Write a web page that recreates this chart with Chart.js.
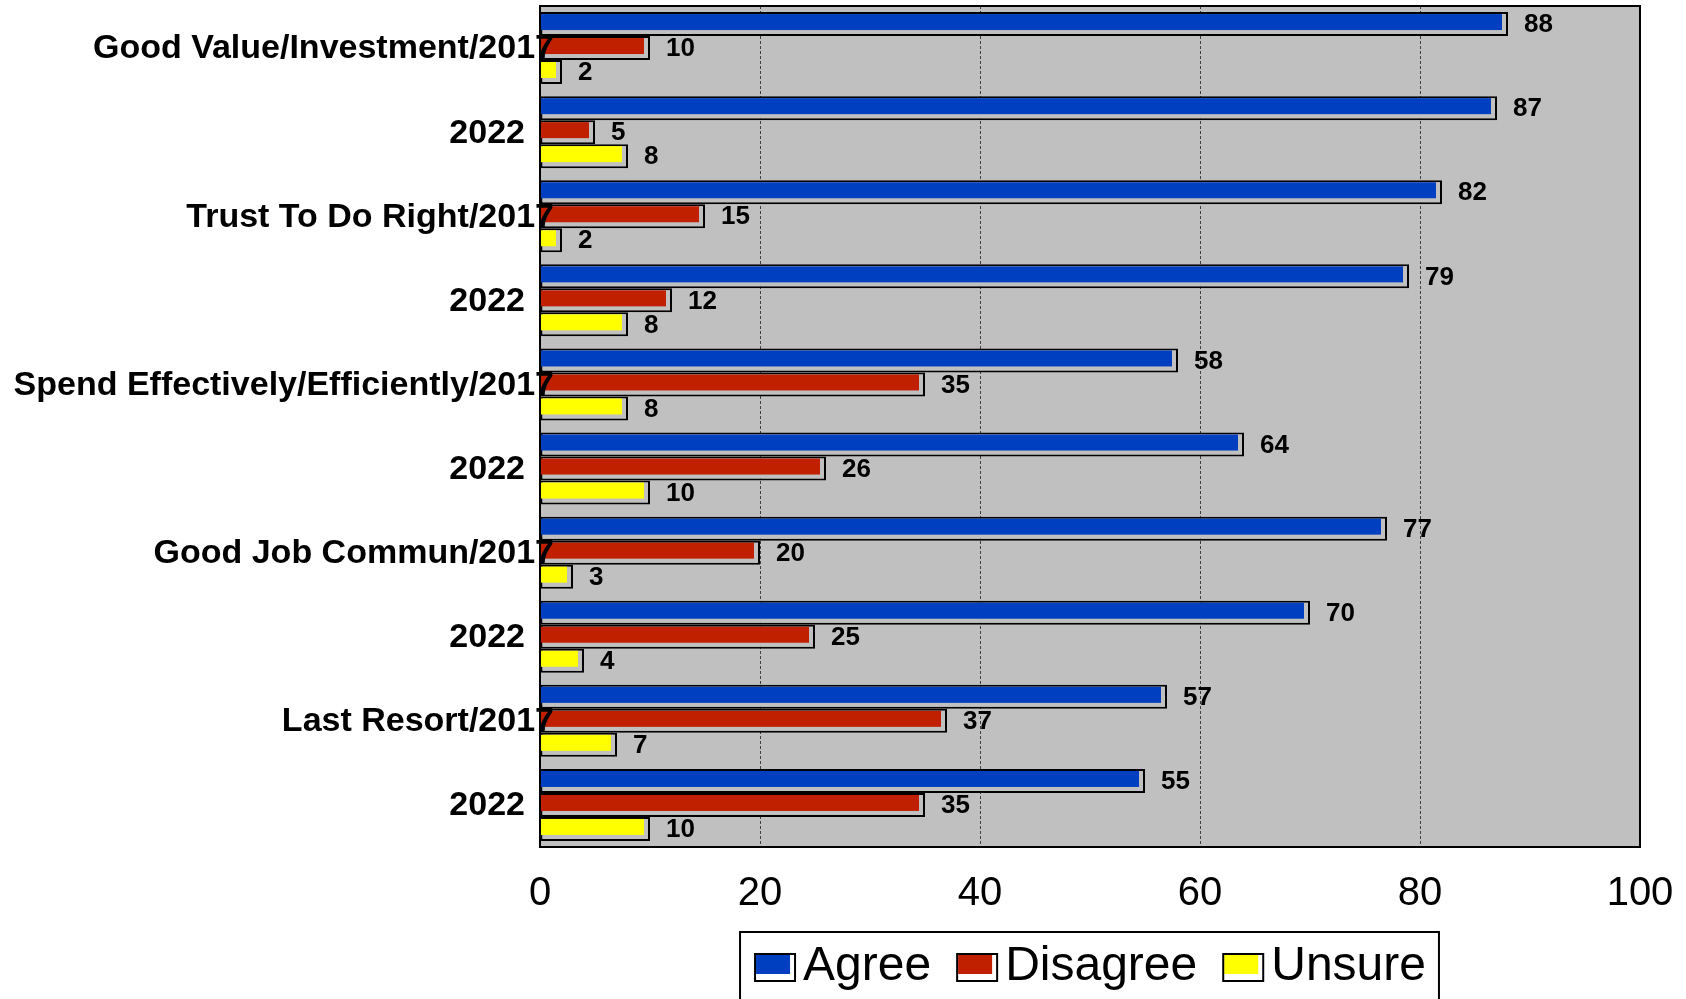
<!DOCTYPE html>
<html>
<head>
<meta charset="utf-8">
<script src="https://cdn.jsdelivr.net/npm/chart.js@4"></script>
<style>
html, body { margin: 0; padding: 0; background: #fff; overflow: hidden; }
</style>
</head>
<body>
<canvas id="chart" width="1686" height="999"></canvas>
<script>
const categories = ['Good Value/Investment/2017', '2022', 'Trust To Do Right/2017', '2022',
    'Spend Effectively/Efficiently/2017', '2022', 'Good Job Commun/2017', '2022', 'Last Resort/2017', '2022'];
const agree = [88, 87, 82, 79, 58, 64, 77, 70, 57, 55];
const disagree = [10, 5, 15, 12, 35, 26, 20, 25, 37, 35];
const unsure = [2, 8, 2, 8, 8, 10, 3, 4, 7, 10];
const seriesNames = ['Agree', 'Disagree', 'Unsure'];
const seriesColors = ['#0040C0', '#C02000', '#FFFF00'];
const xTicks = [0, 20, 40, 60, 80, 100];

// bar box: grey inside, black outline; coloured face drawn by plugin
const barStyle = {
    backgroundColor: '#C0C0C0',
    borderColor: '#000',
    borderWidth: 2,
    borderSkipped: false,
    categoryPercentage: 0.856,
    barPercentage: 1,
};

// grey plot, 3d-ish bars, labels and the boxed legend
const plotFrame = {
    id: 'plotFrame',
    beforeDraw(chart) {
        const { ctx, chartArea: a } = chart;
        ctx.save();
        ctx.fillStyle = '#fff';
        ctx.fillRect(0, 0, chart.width, chart.height);
        ctx.fillStyle = '#C0C0C0';
        ctx.fillRect(a.left, a.top, a.right - a.left, a.bottom - a.top);
        ctx.restore();
    },
    afterDatasetsDraw(chart) {
        const { ctx, chartArea: a } = chart;
        ctx.save();
        chart.data.datasets.forEach((ds, i) => {
            chart.getDatasetMeta(i).data.forEach((bar, j) => {
                const p = bar.getProps(['x', 'y', 'base', 'height'], true);
                const top = p.y - p.height / 2;
                ctx.fillStyle = seriesColors[i];
                ctx.fillRect(p.base, top + 2, p.x - p.base - 6, p.height - 8);
                ctx.fillStyle = '#000';
                ctx.font = 'bold 26px "Liberation Sans"';
                ctx.textAlign = 'left';
                ctx.textBaseline = 'middle';
                ctx.fillText(ds.data[j], p.x + 16, p.y + 1);
            });
        });

        ctx.strokeStyle = '#000';
        ctx.lineWidth = 2;
        ctx.strokeRect(a.left, a.top, a.right - a.left, a.bottom - a.top);

        // category labels
        const yScale = chart.scales.y;
        ctx.font = 'bold 34px "Liberation Sans"';
        ctx.textAlign = 'right';
        ctx.textBaseline = 'middle';
        ctx.fillStyle = '#000';
        categories.forEach((label, j) => {
            const right = label.includes('/') ? a.left + 14 : a.left - 15;
            ctx.fillText(label, right, yScale.getPixelForValue(j) + 1);
        });
        ctx.restore();
    },
    afterDraw(chart) {
        const { ctx, chartArea: a } = chart;
        ctx.save();
        ctx.font = '48px "Liberation Sans"';
        const widths = seriesNames.map(n => ctx.measureText(n).width);
        const total = widths.reduce((s, w) => s + w, 0) + seriesNames.length * 49 + (seriesNames.length - 1) * 25;
        let x = (a.left + a.right) / 2 - total / 2;
        const cy = chart.height - 32;
        ctx.strokeStyle = '#000';
        ctx.lineWidth = 2;
        ctx.strokeRect(x - 14, cy - 35, total + 27, 100);
        seriesNames.forEach((name, i) => {
            const top = cy - 14;
            ctx.fillStyle = '#fff';
            ctx.fillRect(x, top, 42, 29);
            ctx.fillStyle = seriesColors[i];
            ctx.fillRect(x + 2, top + 2, 34, 19);
            ctx.strokeRect(x + 1, top + 1, 40, 27);
            ctx.fillStyle = '#000';
            ctx.textAlign = 'left';
            ctx.textBaseline = 'middle';
            ctx.fillText(name, x + 49, cy);
            x += 49 + widths[i] + 25;
        });
        ctx.restore();
    }
};

new Chart(document.getElementById('chart'), {
    type: 'bar',
    data: {
        labels: categories,
        datasets: [
            { label: seriesNames[0], data: agree, ...barStyle },
            { label: seriesNames[1], data: disagree, ...barStyle },
            { label: seriesNames[2], data: unsure, ...barStyle },
        ]
    },
    options: {
        indexAxis: 'y',
        responsive: false,
        animation: false,
        devicePixelRatio: 1,
        layout: { padding: { top: 6, right: 46, bottom: 82, left: 0 } },
        plugins: {
            legend: { display: false },
            tooltip: { enabled: false },
            colors: { enabled: false },
        },
        scales: {
            x: {
                min: 0,
                max: 100,
                afterBuildTicks: s => { s.ticks = xTicks.map(v => ({ value: v })); },
                afterFit: s => { s.height = 70; s.paddingLeft = 0; s.paddingRight = 0; },
                grid: { color: '#404040', lineWidth: 1, drawTicks: false },
                border: { display: false, dash: [3, 2] },
                ticks: {
                    color: '#000',
                    padding: 23,
                    font: { family: 'Liberation Sans', size: 40 },
                },
            },
            y: {
                afterFit: s => { s.width = 540; },
                grid: { display: false },
                border: { display: false },
                ticks: { display: false },
            },
        },
    },
    plugins: [plotFrame],
});
</script>
</body>
</html>
